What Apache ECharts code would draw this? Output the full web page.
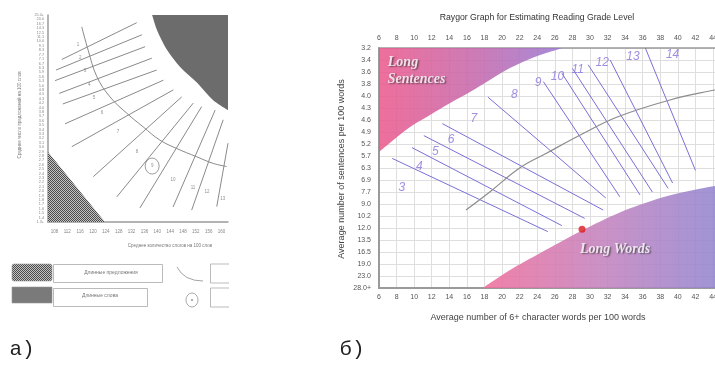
<!DOCTYPE html>
<html><head><meta charset="utf-8">
<script src="https://cdn.jsdelivr.net/npm/echarts@6/dist/echarts.min.js"></script>
<style>html,body{margin:0;padding:0;background:#fff}#c{width:715px;height:381px}</style>
</head><body><div id="c"></div>
<script>
// ===================== DATA =====================
// Panel a) (Fry graph)
const leftXLabels = [108,112,116,120,124,128,132,136,140,144,148,152,156,160];
const leftYLabels = ['25.0+','20.0','16.7','14.3','12.5','11.1','10.0','9.1','8.3','7.7','7.1','6.7','6.3','5.9','5.6','5.3','5.0','4.8','4.5','4.3','4.2','4.0','3.8','3.7','3.6','3.5','3.4','3.3','3.2','3.1','3.0','2.9','2.8','2.7','2.6','2.5','2.4','2.3','2.2','2.1','2.0','1.9','1.8','1.7','1.6','1.5','1.4','1.3+'];
const leftGradeLines = [
  [110.3,10.1,133.6,1.75],[108.5,12.5,135.2,4.5],[108.2,14.9,136.2,7.2],[109.5,17.8,138.3,9.8],
  [110.6,20.2,139.8,12.5],[111.3,24.7,141.9,14.8],[113.4,29.9,145.0,17.0],[120.1,36.7,147.6,18.6],
  [127.4,41.3,151.2,20.0],[134.6,43.8,153.8,20.8],[144.9,43.6,158.0,21.6],[150.7,44.3,160.5,23.8],
  [158.5,43.5,162.0,29.1]
];
const leftGradeNames = ['1','2','3','4','5','6','7','8','9','10','11','12','13'];
const leftGradePos = [[115.3,6.8],[116.0,9.8],[117.5,12.7],[118.8,15.9],[120.3,18.8],[122.8,22.3],[127.8,26.6],[133.7,31.1],[138.4,34.3],[144.9,37.5],[151.1,39.3],[155.5,40.2],[160.4,41.8]];
const leftCenterCurve = [[116.5,2.7],[118.5,8.0],[121.2,14.0],[125.3,18.6],[130.5,22.3],[135.6,25.4],[140.8,28.4],[146.0,30.3],[152.3,32.2],[157.4,33.7],[161.6,34.4]];
const leftLongWordsEdge = [[138.4,0],[139.9,3.4],[143.0,7.9],[147.1,11.8],[152.4,15.4],[157.3,19.3],[162,21.6]];
const leftLongSentEdge = [[106,31.1],[123.7,47]];
const leftCircled = [138.4,34.3];
const leftTexts = {
  yTitle: 'Среднее число предложений на 100 слов',
  xTitle: 'Среднее количество слогов на 100 слов',
  legendSent: 'Длинные предложения',
  legendWords: 'Длинные слова',
  tag: 'a)'
};

// Panel б) (Raygor graph)
const rightTitle = 'Raygor Graph for Estimating Reading Grade Level';
const rightXTitle = 'Average number of 6+ character words per 100 words';
const rightYTitle = 'Average number of sentences per 100 words';
const rightYLabels = ['3.2','3.4','3.6','3.8','4.0','4.3','4.6','4.9','5.2','5.7','6.3','6.9','7.7','9.0','10.2','12.0','13.5','16.5','19.0','23.0','28.0+'];
const rightGradeLines = [
  [7.5,9.2,25.2,15.3],[9.75,8.3,26.8,14.8],[11.1,7.3,29.4,14.2],[13.2,6.3,31.5,13.5],
  [18.4,4.1,31.8,12.5],[24.7,2.8,33.4,12.4],[26.8,2.1,35.7,12.25],[28.0,1.7,37.1,12.0],
  [29.8,1.4,38.9,11.7],[32.3,1.0,39.4,11.25],[36.3,0,42.0,10.2]
];
const rightGradeNames = ['3','4','5','6','7','8','9','10','11','12','13','14'];
const rightGradePos = [[8.6,11.67],[10.6,9.92],[12.4,8.67],[14.2,7.67],[16.8,5.92],[21.4,3.92],[24.1,2.92],[26.3,2.42],[28.6,1.83],[31.4,1.25],[34.9,0.75],[39.4,0.58]];
const rightCenterCurve = [[15.9,13.5],[18.6,12.0],[22.0,10.0],[25.1,8.75],[28.9,7.25],[33.1,5.75],[39.1,4.33],[44.2,3.5],[46,3.25]];
const longSentEdge = [[6,8.67],[8.05,7.42],[9.87,6.42],[11.8,5.58],[14.1,4.58],[16.35,3.67],[18.6,2.67],[20.9,1.67],[23.7,0.75],[26.9,0]];
const longWordsEdge = [[17.8,20],[20.9,18.5],[24.3,17.1],[29.1,15.2],[33.4,13.7],[38.0,12.5],[41.4,11.9],[44.2,11.5],[46,11.3]];
const samplePoint = [29.1,15.1];
const regionNames = { sent: 'Long\nSentences', words: 'Long Words' };
const rightTag = 'б)';

// ===================== CHART =====================
const chart = echarts.init(document.getElementById('c'), null, {renderer:'canvas'});

const pc = document.createElement('canvas'); pc.width = 2; pc.height = 2;
const pctx = pc.getContext('2d');
pctx.fillStyle = '#c4c4c4'; pctx.fillRect(0,0,2,2);
pctx.fillStyle = '#4a4a4a'; pctx.fillRect(0,0,1,1); pctx.fillRect(1,1,1,1);
const hatch = {image: pc, repeat: 'repeat'};

const series = [];
function seg(arr, xi, yi, color, w) {
  arr.forEach(l => series.push({type:'line', xAxisIndex:xi, yAxisIndex:yi, data:[[l[0],l[1]],[l[2],l[3]]],
    symbol:'none', silent:true, lineStyle:{color, width:w}, z:3}));
}
// ---- left panel ----
series.push({type:'line', xAxisIndex:0, yAxisIndex:0, data:leftLongWordsEdge, symbol:'none', smooth:0.3, silent:true,
  lineStyle:{width:0}, areaStyle:{origin:'start', color:'#6c6c6c', opacity:1}, z:2});
series.push({type:'line', xAxisIndex:0, yAxisIndex:0, data:leftLongSentEdge, symbol:'none', silent:true,
  lineStyle:{width:0}, areaStyle:{origin:'end', color:hatch, opacity:1}, z:2});
seg(leftGradeLines, 0, 0, '#8a8a8a', 1);
series.push({type:'line', xAxisIndex:0, yAxisIndex:0, data:leftCenterCurve, symbol:'none', smooth:0.4, silent:true,
  lineStyle:{color:'#8a8a8a', width:1}, z:3});
series.push({type:'scatter', xAxisIndex:0, yAxisIndex:0, silent:true, symbolSize:0,
  data:leftGradeNames.map((n,i)=>({name:n, value:leftGradePos[i]})),
  label:{show:true, position:'inside', formatter:'{b}', fontSize:4.5, color:'#777', fontFamily:'Liberation Sans'}, z:4});
series.push({type:'scatter', xAxisIndex:0, yAxisIndex:0, silent:true, symbol:'circle', symbolSize:[14,16],
  data:[leftCircled], itemStyle:{color:'rgba(0,0,0,0)', borderColor:'#777', borderWidth:0.9}, z:4});

// ---- right panel ----
series.push({type:'line', xAxisIndex:1, yAxisIndex:1, data:longSentEdge, symbol:'none', smooth:0.3, silent:true,
  lineStyle:{width:0}, areaStyle:{origin:'start', opacity:0.88,
    color:{type:'linear', x:0, y:0, x2:1, y2:0, colorStops:[{offset:0,color:'#ec5b8e'},{offset:0.55,color:'#c46aae'},{offset:1,color:'#9a7ad2'}]}}, z:2});
series.push({type:'line', xAxisIndex:1, yAxisIndex:1, data:longWordsEdge, symbol:'none', smooth:0.3, silent:true,
  lineStyle:{width:0}, areaStyle:{origin:'end', opacity:0.88,
    color:{type:'linear', x:0, y:0, x2:1, y2:0, colorStops:[{offset:0,color:'#ef6f9c'},{offset:0.5,color:'#c283bf'},{offset:1,color:'#8d86d2'}]}}, z:2});
seg(rightGradeLines, 1, 1, '#7a70d8', 1);
series.push({type:'line', xAxisIndex:1, yAxisIndex:1, data:rightCenterCurve, symbol:'none', smooth:0.4, silent:true,
  lineStyle:{color:'#8c8c8c', width:1.2}, z:3});
series.push({type:'scatter', xAxisIndex:1, yAxisIndex:1, silent:true, symbolSize:0,
  data:rightGradeNames.map((n,i)=>({name:n, value:rightGradePos[i]})),
  label:{show:true, position:'inside', formatter:'{b}', fontSize:12, fontStyle:'italic', color:'#8a72d8', fontFamily:'Liberation Sans'}, z:4});
series.push({type:'scatter', xAxisIndex:1, yAxisIndex:1, silent:true, symbolSize:7, data:[samplePoint],
  itemStyle:{color:'#e01c1c'}, z:5});
const regionLabel = {show:true, position:'inside', formatter:'{b}', fontSize:14, fontWeight:'bold', fontStyle:'italic',
  fontFamily:'Liberation Serif', color:'#ffffff', textShadowColor:'rgba(40,40,40,0.75)', textShadowOffsetX:1.5, textShadowOffsetY:1.5, textShadowBlur:1.5, lineHeight:17};
series.push({type:'scatter', xAxisIndex:1, yAxisIndex:1, silent:true, symbolSize:0,
  data:[{name:regionNames.sent, value:[7.0,0.45], label:{align:'left', verticalAlign:'top'}},
        {name:regionNames.words, value:[32.85,16.75]}],
  label:regionLabel, z:6});

const axisGray = '#9a9a9a';
function txt(x, y, text, font, fill, extra) {
  return Object.assign({type:'text', x, y, style:{text, font, fill, align:'center', verticalAlign:'middle', textAlign:'center', textVerticalAlign:'middle'}}, extra || {});
}
const option = {
  animation:false,
  backgroundColor:'#ffffff',
  grid:[
    {left:48, top:15, width:180, height:207, containLabel:false, outerBoundsMode:'none'},
    {left:379, top:48, width:351.6, height:240, containLabel:false, outerBoundsMode:'none'}
  ],
  xAxis:[
    {gridIndex:0, type:'value', min:106, max:162, interval:2,
     axisLine:{show:true, onZero:false, lineStyle:{color:axisGray, width:1.5}}, axisTick:{show:false}, splitLine:{show:false},
     axisLabel:{fontSize:4.5, color:'#888', margin:7, fontFamily:'Liberation Sans', showMinLabel:true, showMaxLabel:true,
       formatter:v => leftXLabels.indexOf(v) >= 0 ? String(v) : ''}},
    {gridIndex:1, type:'value', min:6, max:46, interval:2, position:'bottom',
     axisLine:{show:true, onZero:false, lineStyle:{color:axisGray, width:2}}, axisTick:{show:false},
     splitLine:{show:true, lineStyle:{color:'#dedede', width:1}},
     axisLabel:{fontSize:7, color:'#555', margin:6, fontFamily:'Liberation Sans'}},
    {gridIndex:1, type:'value', min:6, max:46, interval:2, position:'top',
     axisLine:{show:true, onZero:false, lineStyle:{color:axisGray, width:1.5}}, axisTick:{show:false}, splitLine:{show:false},
     axisLabel:{fontSize:7, color:'#555', margin:6, fontFamily:'Liberation Sans'}}
  ],
  yAxis:[
    {gridIndex:0, type:'value', min:0, max:leftYLabels.length-1, interval:1, inverse:true,
     axisLine:{show:true, onZero:false, lineStyle:{color:axisGray, width:1.5}}, axisTick:{show:false}, splitLine:{show:false},
     axisLabel:{fontSize:3.8, color:'#888', margin:4, fontFamily:'Liberation Sans', formatter:v => leftYLabels[v] || ''}},
    {gridIndex:1, type:'value', min:0, max:rightYLabels.length-1, interval:1, inverse:true,
     axisLine:{show:true, onZero:false, lineStyle:{color:axisGray, width:2}}, axisTick:{show:false},
     splitLine:{show:true, lineStyle:{color:'#dedede', width:1}},
     axisLabel:{fontSize:7, color:'#555', margin:8, fontFamily:'Liberation Sans', formatter:v => rightYLabels[v] || ''}}
  ],
  series,
  graphic:[
    txt(537, 18, rightTitle, '8.7px "Liberation Sans"', '#333'),
    txt(538, 318, rightXTitle, '9px "Liberation Sans"', '#444'),
    txt(342, 169, rightYTitle, '9px "Liberation Sans"', '#444', {rotation:Math.PI/2}),
    txt(352, 349, rightTag, '21px "Liberation Mono"', '#222'),
    txt(170, 246, leftTexts.xTitle, '4.5px "Liberation Sans"', '#777'),
    txt(20, 115, leftTexts.yTitle, '4.5px "Liberation Sans"', '#777', {rotation:Math.PI/2}),
    txt(22, 349, leftTexts.tag, '21px "Liberation Mono"', '#222'),
    {type:'rect', shape:{x:12, y:264, width:40, height:17, r:2}, style:{fill:hatch, stroke:'#999', lineWidth:0.6}},
    {type:'rect', shape:{x:53.5, y:264.5, width:109, height:18}, style:{fill:'#fff', stroke:'#aaa', lineWidth:0.8}},
    txt(111, 273, leftTexts.legendSent, '5px "Liberation Sans"', '#777'),
    {type:'rect', shape:{x:12, y:287, width:40, height:16}, style:{fill:'#7a7a7a', stroke:'#999', lineWidth:0.6}},
    {type:'rect', shape:{x:53.5, y:288.5, width:94, height:18}, style:{fill:'#fff', stroke:'#aaa', lineWidth:0.8}},
    txt(100, 296, leftTexts.legendWords, '5px "Liberation Sans"', '#777'),
    {type:'bezierCurve', shape:{x1:177, y1:267, x2:203, y2:281, cpx1:184, cpy1:281}, style:{fill:null, stroke:'#999', lineWidth:0.9}},
    {type:'circle', x:192, y:300, scaleX:0.86, shape:{cx:0, cy:0, r:7}, style:{fill:'#fff', stroke:'#999', lineWidth:0.9}},
    {type:'circle', shape:{cx:192, cy:300, r:0.9}, style:{fill:'#888'}},
    {type:'polyline', shape:{points:[[229,264],[210.5,264],[210.5,283],[229,283]]}, style:{fill:null, stroke:'#aaa', lineWidth:0.8}},
    {type:'polyline', shape:{points:[[229,288],[210.5,288],[210.5,307],[229,307]]}, style:{fill:null, stroke:'#aaa', lineWidth:0.8}}
  ]
};
chart.setOption(option);
</script></body></html>
